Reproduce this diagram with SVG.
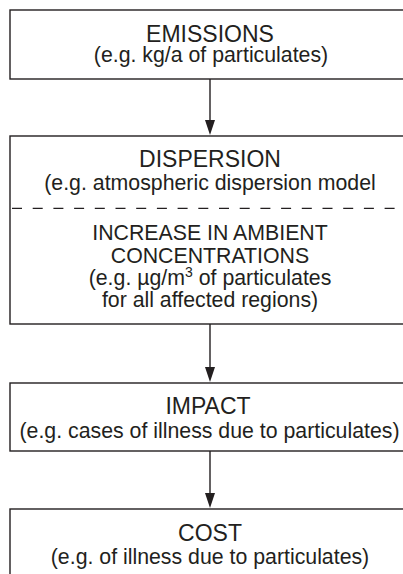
<svg xmlns="http://www.w3.org/2000/svg" width="403" height="574" viewBox="0 0 403 574">
<style>
.box{fill:#fff;stroke:#231f20;stroke-width:1.4}
.dash{stroke:#231f20;stroke-width:1.3;stroke-dasharray:10 10.7}
.t{font-family:"Liberation Sans",Arial,sans-serif;font-size:21.3px;fill:#231f20;text-anchor:middle}
.h{font-size:23px}
.edge{stroke:#231f20;stroke-width:1.4;fill:none}
.head{fill:#231f20}
</style>
<rect width="403" height="574" fill="#fff"/>
<g id="emissions">
<rect class="box" x="10" y="10" width="400" height="69"/>
<text class="t h" x="210" y="41.7">EMISSIONS</text>
<text class="t" x="211" y="62">(e.g. kg/a of particulates)</text>
</g>
<g id="dispersion">
<rect class="box" x="10" y="136" width="400" height="188"/>
<text class="t h" x="210" y="167">DISPERSION</text>
<text class="t" x="210" y="189.5">(e.g. atmospheric dispersion model</text>
<line class="dash" x1="12" y1="208.3" x2="410" y2="208.3"/>
<text class="t" x="210" y="240">INCREASE IN AMBIENT</text>
<text class="t" x="210" y="262.5">CONCENTRATIONS</text>
<text class="t" x="210" y="285">(e.g. µg/m<tspan font-size="14" dy="-8">3</tspan><tspan dy="8"> of particulates</tspan></text>
<text class="t" x="210" y="307.3">for all affected regions)</text>
</g>
<g id="impact">
<rect class="box" x="10" y="383" width="400" height="68"/>
<text class="t h" x="208" y="414.3">IMPACT</text>
<text class="t" x="209.5" y="437.5">(e.g. cases of illness due to particulates)</text>
</g>
<g id="cost">
<rect class="box" x="10" y="509" width="400" height="80"/>
<text class="t h" x="210" y="541">COST</text>
<text class="t" x="210" y="564">(e.g. of illness due to particulates)</text>
</g>
<g id="connectors">
<line class="edge" x1="210" y1="79" x2="210" y2="121"/>
<polygon class="head" points="205,120 215,120 210,135"/>
<line class="edge" x1="210" y1="324" x2="210" y2="368"/>
<polygon class="head" points="205,367 215,367 210,382"/>
<line class="edge" x1="210" y1="451" x2="210" y2="494"/>
<polygon class="head" points="205,493 215,493 210,508"/>
</g>
</svg>
